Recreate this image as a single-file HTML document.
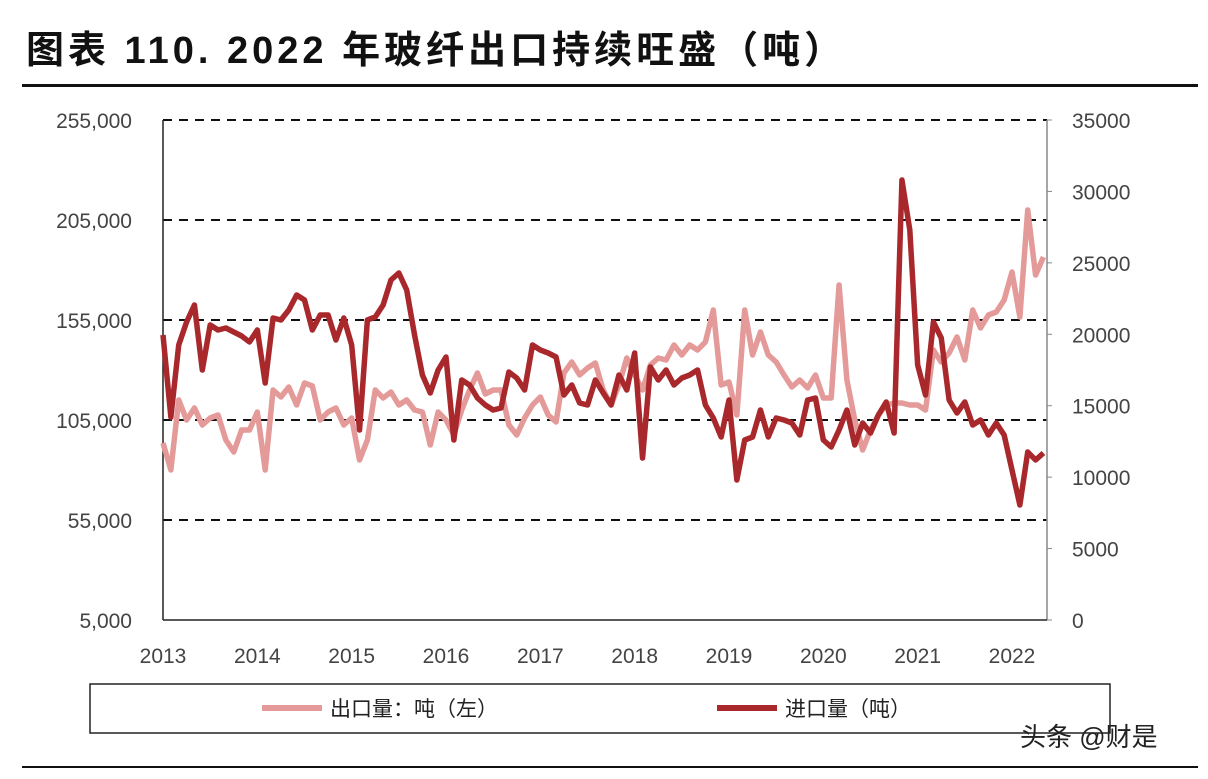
<!DOCTYPE html>
<html><head><meta charset="utf-8"><style>
body{margin:0;background:#fff;width:1208px;height:774px;overflow:hidden;font-family:"Liberation Sans","Noto Sans CJK SC",sans-serif}
</style></head><body>
<svg width="1208" height="774" xmlns="http://www.w3.org/2000/svg">
<text x="26" y="63" font-size="38" font-weight="bold" letter-spacing="4" fill="#111" font-family="Liberation Sans, Noto Sans CJK SC, sans-serif">图表 110. 2022 年玻纤出口持续旺盛（吨）</text>
<rect x="22" y="84" width="1176" height="3" fill="#111"/>
<g id="grid"></g><g id="axes"></g><g id="lines"></g>
<rect x="90" y="684" width="1020" height="49" fill="none" stroke="#222" stroke-width="1.5"/>
<line x1="262" y1="708" x2="322" y2="708" stroke="#e39a98" stroke-width="6"/>
<text x="330" y="716" font-size="21" fill="#222">出口量：吨（左）</text>
<line x1="717" y1="708" x2="777" y2="708" stroke="#a8282c" stroke-width="6"/>
<text x="785" y="716" font-size="21" fill="#222">进口量（吨）</text>
<text x="1020" y="746" font-size="26" fill="#222">头条 @财是</text>
<rect x="22" y="766" width="1176" height="2" fill="#111"/>
</svg>
<script>
const months=[];for(let i=0;i<=112;i++)months.push(i);
const exportVals=[93500,80000,115000,105000,111000,102500,106000,107500,95000,89000,100000,100000,109000,80000,120000,116500,121500,112500,123500,122000,105000,109000,111000,102500,106000,85000,95000,120000,116000,119000,112500,115000,110000,109000,92500,109000,105000,97500,110000,120000,128500,118000,120000,120000,102500,97500,106000,112500,116500,107500,104000,128500,134000,127500,131000,133500,120000,112500,122500,136000,127500,120000,132500,136000,135000,142500,137500,142500,140000,144000,160000,122500,124000,107500,160000,137500,149000,137500,134000,127500,121500,125000,121000,127500,116000,116000,172500,125000,105000,90000,100000,107500,112500,113500,113500,112500,112500,110000,140000,134000,138500,146500,135000,160000,151000,157500,159000,165000,179000,156500,210000,177500,186500];
const importVals=[19950,14200,19250,20860,22050,17500,20650,20300,20440,20160,19880,19460,20300,16590,21140,21000,21700,22750,22400,20300,21350,21350,19600,21140,19250,13300,21000,21210,22050,23800,24290,23100,19950,17150,15890,17500,18410,12600,16800,16450,15540,15050,14700,14840,17360,16940,16100,19250,18900,18690,18410,15750,16450,15190,15050,16800,15890,15050,17150,16100,18690,11340,17710,16800,17500,16450,16940,17150,17500,15050,14140,12810,15400,9800,12600,12810,14700,12810,14140,14000,13790,12950,15400,15540,12600,12110,13300,14700,12250,13790,13090,14350,15260,13090,30800,27300,17850,15750,20860,19740,15400,14490,15260,13650,14000,12950,13790,12950,10500,8050,11760,11200,11690];
const leftTicks=[5000,55000,105000,155000,205000,255000];
const rightTicks=[0,5000,10000,15000,20000,25000,30000,35000];
const yearLabels=[2013,2014,2015,2016,2017,2018,2019,2020,2021,2022];
const NS="http://www.w3.org/2000/svg";
const X0=163,X1=1047,Y0=620,Y1=120;
const xm=m=>X0+m*(849/108);
const yl=v=>Y0-(v-5000)/250000*(Y0-Y1);
const yr=v=>Y0-v/35000*(Y0-Y1);
function mk(t,a,p){const e=document.createElementNS(NS,t);for(const k in a)e.setAttribute(k,a[k]);p.appendChild(e);return e;}
const grid=document.getElementById('grid'),axes=document.getElementById('axes'),lines=document.getElementById('lines');
leftTicks.forEach(v=>{
 if(v>5000){const g=mk('line',{x1:X0,x2:X1,y1:yl(v),y2:yl(v),stroke:'#111','stroke-width':2,'stroke-dasharray':'9,7'},grid);
 
 }
 const t=mk('text',{x:132,y:yl(v)+8,'text-anchor':'end','font-size':21,fill:'#444'},axes);t.textContent=v.toLocaleString('en-US');
 
 
});
rightTicks.forEach(v=>{
 const t=mk('text',{x:1072,y:yr(v)+8,'font-size':21,fill:'#444'},axes);t.textContent=v;
 
 
 const k=mk('line',{x1:X1,x2:X1+5,y1:yr(v),y2:yr(v),stroke:'#888','stroke-width':1},axes);
 
 
});
yearLabels.forEach((y,i)=>{
 const t=mk('text',{x:xm(i*12),y:663,'text-anchor':'middle','font-size':21,fill:'#444'},axes);t.textContent=y;
 
 
});
let a=mk('line',{x1:X0,x2:X0,y1:Y1,y2:Y0,stroke:'#222','stroke-width':1.5},axes);


a=mk('line',{x1:X1,x2:X1,y1:Y1,y2:Y0,stroke:'#888','stroke-width':1.5},axes);


a=mk('line',{x1:X0,x2:X1,y1:Y0,y2:Y0,stroke:'#222','stroke-width':1.5},axes);


let p=mk('polyline',{points:months.map((m,i)=>xm(m)+','+yl(exportVals[i])).join(' '),fill:'none',stroke:'#e39a98','stroke-width':5.5,'stroke-linejoin':'round'},lines);


p=mk('polyline',{points:months.map((m,i)=>xm(m)+','+yr(importVals[i])).join(' '),fill:'none',stroke:'#a8282c','stroke-width':5.5,'stroke-linejoin':'round'},lines);


</script>
</body></html>
